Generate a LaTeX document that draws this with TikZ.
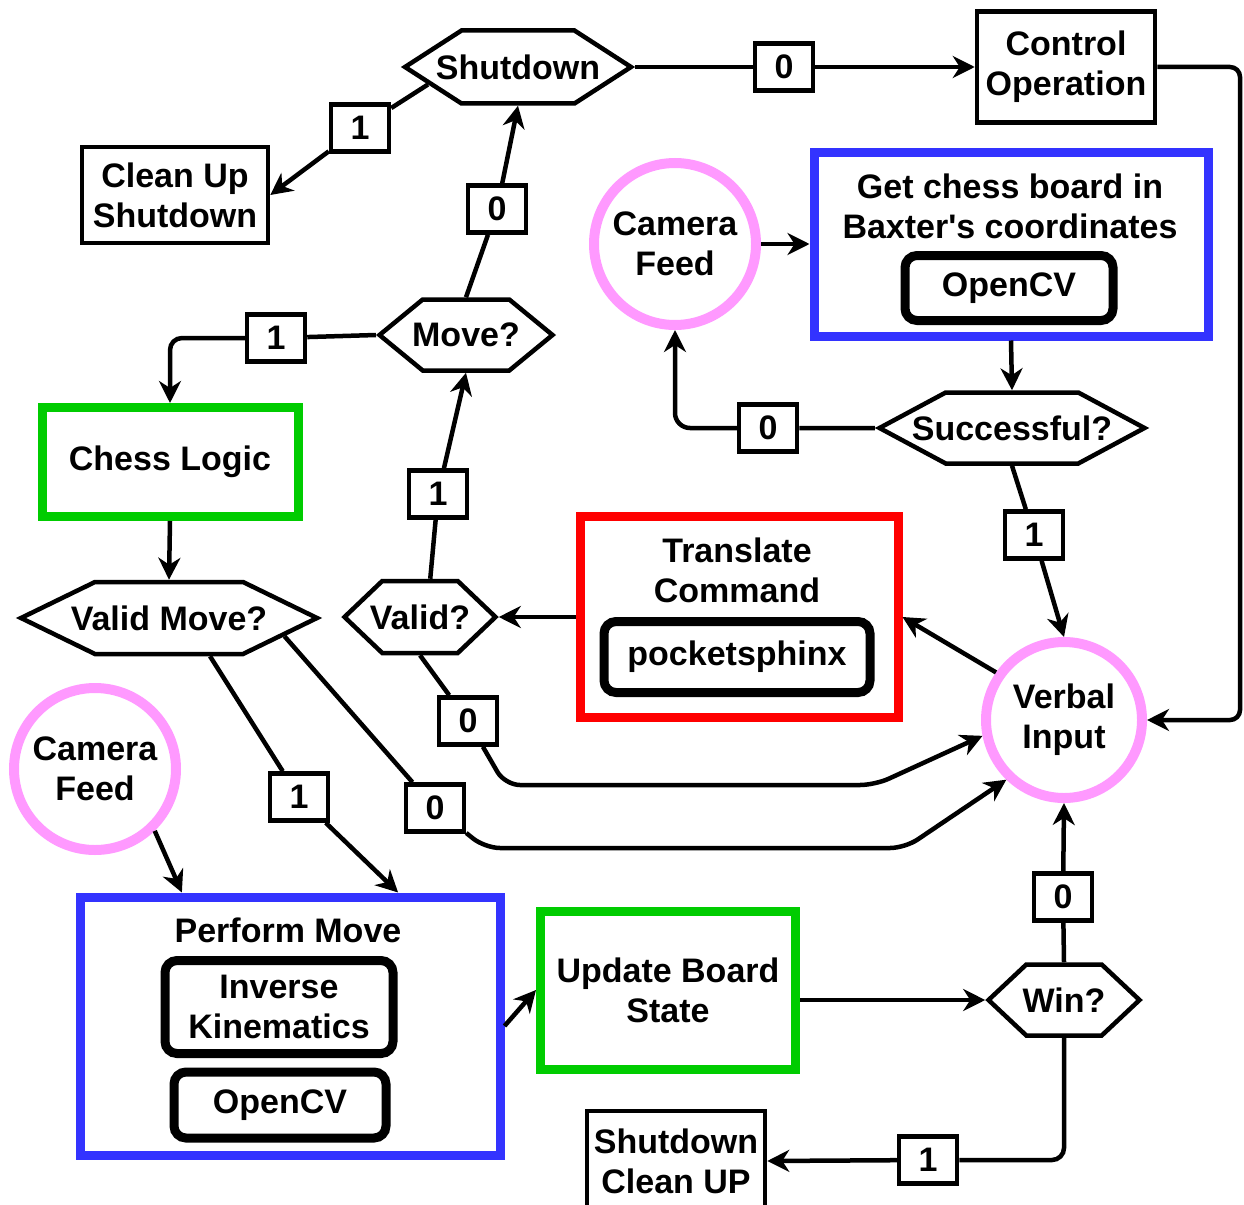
\documentclass[tikz,border=0pt]{standalone}
\usepackage{fontspec}
\setmainfont{Liberation Sans}[Ligatures=TeXOff]
\usepackage{tikz}
\usetikzlibrary{arrows.meta}
\usetikzlibrary{shapes.symbols}
\definecolor{ringpink}{RGB}{255,153,255}
\definecolor{frameblue}{RGB}{51,51,255}
\definecolor{framegreen}{RGB}{0,204,0}
\definecolor{framered}{RGB}{255,0,0}
\tikzset{
  conn/.style={line width=4.5pt, -{Stealth[length=22pt,width=22pt,inset=7pt]}},
  plainbox/.style={draw, line width=4.5pt, inner sep=0pt, align=center},
  flagbox/.style={draw, line width=4.5pt, fill=white, inner sep=0pt, minimum width=58pt, minimum height=47pt},
  framebox/.style={draw=#1, line width=9pt, inner sep=0pt, align=center},
  toolbox/.style={draw, line width=9pt, rounded corners=12pt, inner sep=0pt, align=center},
  ring/.style={draw=ringpink, line width=10pt, circle, inner sep=0pt, align=center},
  hexa/.style={draw, line width=4.5pt, signal, signal to=east and west, inner sep=0pt}
}
\newcommand{\flag}[3]{\node[flagbox] (#1) at (#2) {#3};}
\newcommand{\decision}[6]{\node[hexa, minimum width=#3pt, minimum height=#4pt, signal pointer angle=#5, label=center:#6] (#1) at (#2) {};}

\begin{document}
\begin{tikzpicture}[x=1pt, y=-1pt, font=\bfseries\fontsize{34}{40}\selectfont]
        \useasboundingbox (0,0) rectangle (1244,1204);
        % top row
        \decision{sd}{518,67}{226}{73}{65.7}{Shutdown}
        \flag{sd0}{784,67}{0}
        \node[plainbox, minimum width=178pt, minimum height=111pt] (ctrl) at (1066,67) {Control\\Operation};
        \node[plainbox, minimum width=186pt, minimum height=96pt] (cu) at (175,195) {Clean Up\\Shutdown};
        \flag{sd1}{360,128}{1}
        \flag{mv0}{497,209}{0}
        % board detection
        \node[ring, minimum size=162pt] (cf1) at (675,244) {Camera\\Feed};
        \node[framebox=frameblue, minimum width=394pt, minimum height=184pt] (gb) at (1011,244) {};
        \node[align=center] (gbtitle) at (1010,206) {Get chess board in\\Baxter's coordinates};
        \node[toolbox, minimum width=208pt, minimum height=65pt] (ocv1) at (1009,288) {OpenCV};
        \decision{sc}{1012,428}{265}{71}{56.4}{Successful?}
        \flag{sc0}{768,428}{0}
        \flag{sc1}{1034,535}{1}
        % move decisions
        \decision{mv}{466,335}{173}{71}{78.8}{Move?}
        \flag{mv1}{276,338}{1}
        \node[framebox=framegreen, minimum width=256pt, minimum height=109pt] (chess) at (170,462) {Chess Logic};
        \decision{vm}{169,618}{296}{72}{51.9}{Valid Move?}
        \decision{vl}{420,617}{151}{72}{87.3}{Valid?}
        \flag{vl1}{438,494}{1}
        \flag{vl0}{468,721}{0}
        % speech
        \node[framebox=framered, minimum width=318pt, minimum height=201pt] (tr) at (739,617) {};
        \node[align=center] (trtitle) at (737,570) {Translate\\Command};
        \node[toolbox, minimum width=266pt, minimum height=71pt] (ps) at (737,657) {pocketsphinx};
        \node[ring, minimum size=156pt] (vi) at (1064,720) {Verbal\\Input};
        % bottom row
        \node[ring, minimum size=162pt] (cf2) at (95,769) {Camera\\Feed};
        \flag{vm1}{299,797}{1}
        \flag{vm0}{435,808}{0}
        \node[framebox=frameblue, minimum width=420pt, minimum height=258pt] (pm) at (290,1026) {};
        \node (pmtitle) at (288,930) {Perform Move};
        \node[toolbox, minimum width=228pt, minimum height=93pt] (ik) at (279,1007) {Inverse\\Kinematics};
        \node[toolbox, minimum width=212pt, minimum height=66pt] (ocv2) at (280,1105) {OpenCV};
        \node[framebox=framegreen, minimum width=255pt, minimum height=158pt] (ub) at (668,990) {Update Board\\State};
        \decision{win}{1064,1000}{151}{71}{86.4}{Win?}
        \flag{win0}{1063,897}{0}
        \flag{win1}{928,1160}{1}
        \node[plainbox, minimum width=178pt, minimum height=100pt] (scu) at (676,1161) {Shutdown\\Clean UP};
        % bends
        \coordinate (rim) at (1240,0);
        \coordinate (lowa) at (505,785);
        \coordinate (lowb) at (875,785);
        \coordinate (lowc) at (485,848);
        \coordinate (lowd) at (905,848);
        % connectors
        \draw[conn] (sd.east) -- (sd0) -- (ctrl.west);
        \draw[conn, rounded corners=10pt] (ctrl.east) -| (rim |- vi.east) -- (vi.east);
        \draw[conn] (sd.191) -- (sd1) -- (cu.east);
        \draw[conn] (mv.north) -- (mv0) -- (sd.south);
        \draw[conn, rounded corners=12pt] (mv.west) -- (mv1) -| (chess.north);
        \draw[conn] (chess.south) -- (vm.north);
        \draw[conn] (vl.75) -- (vl1) -- (mv.south);
        \draw[conn] (tr.west) -- (vl.east);
        \draw[conn] (vi.145) -- (tr.east);
        \draw[conn] (cf1.east) -- (gb.west);
        \draw[conn] (gb.south) -- (sc.north);
        \draw[conn, rounded corners=15pt] (sc.west) -- (sc0) -| (cf1.south);
        \draw[conn] (sc.south) -- (sc1) -- (vi.north);
        \draw[conn, rounded corners=15pt] (vl.south) -- (vl0) -- (lowa) -- (lowb) -- (vi.191);
        \draw[conn, rounded corners=15pt] (vm.-9) -- (vm0) -- (lowc) -- (lowd) -- (vi.226);
        \draw[conn] (vm.-43) -- (vm1) -- (pm.51);
        \draw[conn] (cf2.-46) -- (pm.129);
        \draw[conn] (pm.east) -- (ub.west);
        \draw[conn] (ub.east |- win.west) -- (win.west);
        \draw[conn] (win.north) -- (win0) -- (vi.south);
        \draw[conn, rounded corners=12pt] (win.south) |- (win1) -- (scu.east);
\end{tikzpicture}
\end{document}
